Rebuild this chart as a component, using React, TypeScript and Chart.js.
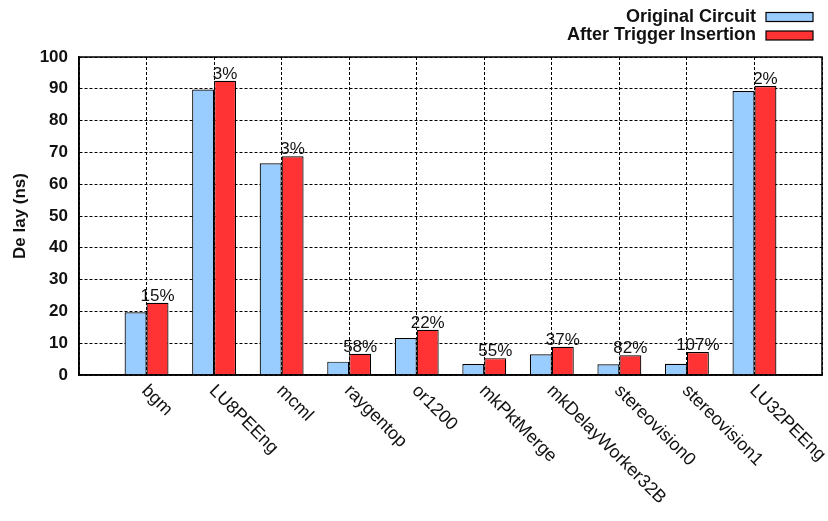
import React, { useEffect, useRef } from "react";
import { Chart, registerables } from "chart.js";

Chart.register(...registerables);

// Benchmark circuits along the x axis
const categories = [
  "bgm",
  "LU8PEEng",
  "mcml",
  "raygentop",
  "or1200",
  "mkPktMerge",
  "mkDelayWorker32B",
  "stereovision0",
  "stereovision1",
  "LU32PEEng",
];

// Critical-path delay in ns
const originalDelay = [19.7, 89.8, 66.6, 4.2, 11.6, 3.42, 6.5, 3.4, 3.5, 89.3];
const triggerDelay = [22.7, 92.5, 68.8, 6.65, 14.2, 5.3, 8.9, 6.2, 7.25, 90.9];

// Delay overhead printed above each "after" bar
const overheadLabels = ["15%", "3%", "3%", "58%", "22%", "55%", "37%", "82%", "107%", "2%"];

const seriesNames = ["Original Circuit", "After Trigger Insertion"];
const seriesColors = ["#99ccff", "#ff3333"];

const FONT = '"Liberation Sans", Arial, Helvetica, sans-serif';
const INK = "#111111";

// Solid box around the plotting area
const plotFrame = {
  id: "plotFrame",
  afterDatasetsDraw(chart: any) {
    const { ctx, chartArea } = chart;
    ctx.save();
    ctx.strokeStyle = "#000";
    ctx.lineWidth = 1.5;
    ctx.strokeRect(
      chartArea.left,
      chartArea.top,
      chartArea.right - chartArea.left,
      chartArea.bottom - chartArea.top
    );
    ctx.restore();
  },
};

// Overhead percentages centred on top of the second series' bars
const overheadText = {
  id: "overheadText",
  afterDatasetsDraw(chart: any) {
    const { ctx } = chart;
    const meta = chart.getDatasetMeta(1);
    ctx.save();
    ctx.font = `17px ${FONT}`;
    ctx.fillStyle = INK;
    ctx.textAlign = "center";
    ctx.textBaseline = "alphabetic";
    meta.data.forEach((bar: any, i: number) => {
      ctx.fillText(overheadLabels[i], bar.x, bar.y - 2);
    });
    ctx.restore();
  },
};

// Category names slanted downward under each tick
const slantedCategoryLabels = {
  id: "slantedCategoryLabels",
  afterDraw(chart: any) {
    const { ctx, chartArea } = chart;
    const xs = chart.scales.x;
    ctx.save();
    ctx.font = `18px ${FONT}`;
    ctx.fillStyle = INK;
    ctx.textAlign = "left";
    ctx.textBaseline = "middle";
    categories.forEach((name, i) => {
      const px = xs.getPixelForValue(i);
      ctx.save();
      ctx.translate(px - 2, chartArea.bottom + 13);
      ctx.rotate(Math.PI / 4);
      ctx.fillText(name, 0, 0);
      ctx.restore();
    });
    ctx.restore();
  },
};

// Key in the top-right corner: label on the left, swatch on the right
const keyBox = {
  id: "keyBox",
  afterDraw(chart: any) {
    const { ctx, chartArea } = chart;
    const textRight = chartArea.right - 66;
    const swatchLeft = chartArea.right - 56;
    const swatchWidth = 47;
    const swatchHeight = 9;
    const rows = [17, 35.5];
    ctx.save();
    ctx.font = `bold 18px ${FONT}`;
    ctx.textAlign = "right";
    ctx.textBaseline = "middle";
    chart.data.datasets.forEach((ds: any, i: number) => {
      const cy = rows[i];
      ctx.fillStyle = INK;
      ctx.fillText(ds.label, textRight, cy);
      ctx.fillStyle = ds.backgroundColor;
      ctx.fillRect(swatchLeft, cy - swatchHeight / 2, swatchWidth, swatchHeight);
      ctx.strokeStyle = "#000";
      ctx.lineWidth = 1.2;
      ctx.strokeRect(swatchLeft, cy - swatchHeight / 2, swatchWidth, swatchHeight);
    });
    ctx.restore();
  },
};

export default function App() {
  const canvasRef = useRef<HTMLCanvasElement | null>(null);

  useEffect(() => {
    const canvas = canvasRef.current;
    if (!canvas) return;

    const chart = new Chart(canvas, {
      type: "bar",
      data: {
        datasets: [
          {
            label: seriesNames[0],
            data: originalDelay.map((v, i) => ({ x: i, y: v })),
            backgroundColor: seriesColors[0],
            borderColor: "#000",
            borderWidth: 1.2,
            categoryPercentage: 0.65,
            barPercentage: 1,
          },
          {
            label: seriesNames[1],
            data: triggerDelay.map((v, i) => ({ x: i, y: v })),
            backgroundColor: seriesColors[1],
            borderColor: "#000",
            borderWidth: 1.2,
            categoryPercentage: 0.65,
            barPercentage: 1,
          },
        ],
      },
      options: {
        animation: false,
        responsive: false,
        maintainAspectRatio: false,
        events: [],
        layout: { padding: { top: 57, right: 6, left: 0, bottom: 0 } },
        plugins: {
          legend: { display: false },
          tooltip: { enabled: false },
          title: { display: false },
        },
        scales: {
          x: {
            type: "linear",
            min: -1,
            max: categories.length,
            offset: false,
            ticks: { display: false, stepSize: 1, maxTicksLimit: 30 },
            grid: { color: "#000", lineWidth: 1, drawTicks: false, offset: false },
            border: { display: true, color: "#000", width: 1.5, dash: [3, 2] },
            afterFit: (scale: any) => {
              scale.height = 146;
            },
          },
          y: {
            min: 0,
            max: 100,
            ticks: {
              stepSize: 10,
              padding: 11,
              color: INK,
              font: { family: FONT, size: 17, weight: "bold" },
            },
            grid: { color: "#000", lineWidth: 1, drawTicks: false },
            border: { display: true, color: "#000", width: 1.5, dash: [3, 2] },
            title: {
              display: true,
              text: "De lay (ns)",
              color: INK,
              font: { family: FONT, size: 17, weight: "bold" },
              padding: { top: 10, bottom: 0 },
            },
            afterFit: (scale: any) => {
              scale.width = 79;
            },
          },
        },
      } as any,
      plugins: [plotFrame, overheadText, slantedCategoryLabels, keyBox],
    });

    return () => chart.destroy();
  }, []);

  return (
    <div style={{ position: "absolute", left: 0, top: 0, width: 828, height: 521, background: "#fff" }}>
      <canvas ref={canvasRef} width={828} height={521} />
    </div>
  );
}
